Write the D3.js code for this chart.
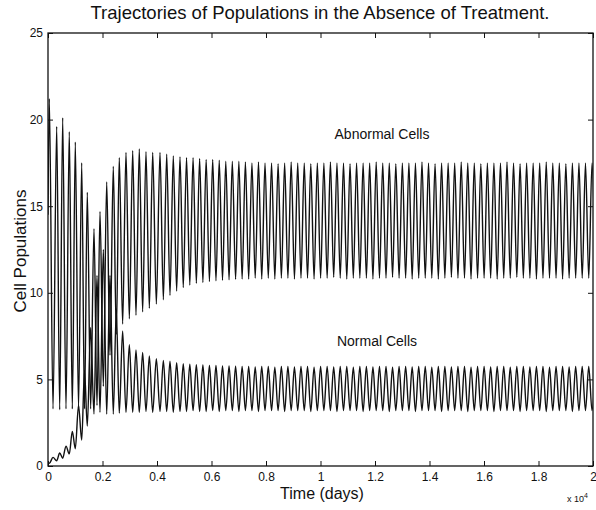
<!DOCTYPE html>
<html>
<head>
<meta charset="utf-8">
<script src="https://cdn.jsdelivr.net/npm/d3@7"></script>
<style>
  html, body { margin: 0; padding: 0; background: #fff; }
  svg { display: block; font-family: "Liberation Sans", Arial, Helvetica, sans-serif; }
</style>
</head>
<body>
<svg id="chart" width="596" height="510"></svg>
<script>
// ---------------- data ----------------
const titleText = "Trajectories of Populations in the Absence of Treatment.";
const xLabel = "Time (days)";
const yLabel = "Cell Populations";
const xTickValues = [0, 2000, 4000, 6000, 8000, 10000, 12000, 14000, 16000, 18000, 20000];
const xTickLabels = ["0", "0.2", "0.4", "0.6", "0.8", "1", "1.2", "1.4", "1.6", "1.8", "2"];
const yTickValues = [0, 5, 10, 15, 20, 25];
const seriesNames = ["Abnormal Cells", "Normal Cells"];
const startValues = [14.5, 0.25];   // values at day 0

// days of the abnormal-cell maxima (normal-cell minima)
const peakDays = [48, 319, 539, 781, 1002, 1237, 1442, 1688, 1908, 2154,
  2396, 2616, 2862, 3108, 3350, 3596, 3842, 4110, 4356, 4598,
  4844, 5084, 5324, 5564, 5804, 6044, 6284, 6524, 6764, 7004,
  7244, 7484, 7724, 7964, 8204, 8444, 8684, 8924, 9164, 9404,
  9644, 9884, 10124, 10364, 10604, 10844, 11084, 11324, 11564, 11804,
  12044, 12284, 12524, 12764, 13004, 13244, 13484, 13724, 13964, 14204,
  14444, 14684, 14924, 15164, 15404, 15644, 15884, 16124, 16364, 16604,
  16844, 17084, 17324, 17564, 17804, 18044, 18284, 18524, 18764, 19004,
  19244, 19484, 19724, 19964];
// days of the abnormal-cell minima (normal-cell maxima)
const troughDays = [184, 429, 660, 892, 1120, 1340, 1565, 1798, 2031, 2275,
  2506, 2739, 2985, 3229, 3473, 3719, 3976, 4233, 4477, 4721,
  4964, 5204, 5444, 5684, 5924, 6164, 6404, 6644, 6884, 7124,
  7364, 7604, 7844, 8084, 8324, 8564, 8804, 9044, 9284, 9524,
  9764, 10004, 10244, 10484, 10724, 10964, 11204, 11444, 11684, 11924,
  12164, 12404, 12644, 12884, 13124, 13364, 13604, 13844, 14084, 14324,
  14564, 14804, 15044, 15284, 15524, 15764, 16004, 16244, 16484, 16724,
  16964, 17204, 17444, 17684, 17924, 18164, 18404, 18644, 18884, 19124,
  19364, 19604, 19844, 20084];

const abnormalPeaks = [21.2, 19.6, 20.1, 19.3, 18.7, 17.5, 15.8, 13.7, 14.7, 16.4,
  17.3, 17.8, 18.1, 18.2, 18.3, 18.15, 18.1, 18.1, 18.0, 17.9,
  17.85, 17.8, 17.8, 17.75, 17.7, 17.7, 17.65, 17.6, 17.6, 17.6,
  17.55, 17.5, 17.55, 17.5, 17.5, 17.45, 17.5, 17.55, 17.5, 17.5,
  17.45, 17.5, 17.5, 17.55, 17.5, 17.5, 17.45, 17.5, 17.5, 17.5,
  17.55, 17.5, 17.5, 17.45, 17.5, 17.5, 17.5, 17.55, 17.5, 17.45,
  17.5, 17.5, 17.5, 17.55, 17.5, 17.5, 17.45, 17.5, 17.5, 17.5,
  17.55, 17.5, 17.45, 17.5, 17.5, 17.5, 17.55, 17.5, 17.5, 17.45,
  17.5, 17.5, 17.5, 17.5];
const abnormalTroughs = [3.3, 3.25, 3.3, 3.3, 3.35, 3.3, 3.3, 3.5, 4.6, 6.4,
  7.6, 8.2, 8.5, 8.7, 8.9, 9.1, 9.35, 9.6, 9.85, 10.1,
  10.3, 10.45, 10.55, 10.6, 10.65, 10.7, 10.72, 10.75, 10.78, 10.8,
  10.8, 10.85, 10.8, 10.85, 10.8, 10.85, 10.85, 10.8, 10.85, 10.85,
  10.8, 10.85, 10.85, 10.9, 10.85, 10.8, 10.85, 10.85, 10.85, 10.8,
  10.85, 10.85, 10.9, 10.85, 10.85, 10.8, 10.85, 10.85, 10.85, 10.8,
  10.85, 10.9, 10.85, 10.85, 10.8, 10.85, 10.85, 10.85, 10.8, 10.85,
  10.85, 10.9, 10.85, 10.85, 10.8, 10.85, 10.85, 10.85, 10.8, 10.85,
  10.85, 10.85, 10.85, 10.85];
const normalPeaks = [0.5, 0.75, 1.15, 2.0, 3.5, 5.5, 8.0, 11.0, 12.5, 11.0,
  9.0, 7.8, 7.0, 6.7, 6.55, 6.35, 6.2, 6.1, 6.05, 5.96,
  5.9, 5.88, 5.85, 5.83, 5.8, 5.8, 5.78, 5.78, 5.76, 5.75,
  5.75, 5.72, 5.75, 5.75, 5.7, 5.75, 5.75, 5.72, 5.75, 5.75,
  5.7, 5.75, 5.75, 5.72, 5.75, 5.75, 5.7, 5.75, 5.75, 5.72,
  5.75, 5.75, 5.7, 5.75, 5.75, 5.72, 5.75, 5.75, 5.7, 5.75,
  5.75, 5.72, 5.75, 5.75, 5.7, 5.75, 5.75, 5.72, 5.75, 5.75,
  5.7, 5.75, 5.75, 5.72, 5.75, 5.75, 5.7, 5.75, 5.75, 5.72,
  5.75, 5.75, 5.75, 5.75];
const normalTroughs = [0.15, 0.3, 0.45, 0.7, 1.0, 1.5, 2.3, 3.0, 3.1, 3.0,
  3.0, 3.05, 3.1, 3.1, 3.1, 3.15, 3.1, 3.15, 3.15, 3.1,
  3.15, 3.15, 3.2, 3.15, 3.15, 3.2, 3.15, 3.2, 3.2, 3.15,
  3.2, 3.2, 3.15, 3.2, 3.2, 3.2, 3.15, 3.2, 3.2, 3.2,
  3.15, 3.2, 3.2, 3.2, 3.15, 3.2, 3.2, 3.2, 3.15, 3.2,
  3.2, 3.2, 3.15, 3.2, 3.2, 3.2, 3.15, 3.2, 3.2, 3.2,
  3.15, 3.2, 3.2, 3.2, 3.15, 3.2, 3.2, 3.2, 3.15, 3.2,
  3.2, 3.2, 3.15, 3.2, 3.2, 3.2, 3.15, 3.2, 3.2, 3.2,
  3.15, 3.2, 3.2, 3.2];

// ---------------- layout ----------------
const svg = d3.select("#chart");
const margin = { left: 48, right: 3, top: 33, bottom: 44 };
const W = 596, H = 510;
const x = d3.scaleLinear().domain([0, 20000]).range([margin.left, W - margin.right]);
const y = d3.scaleLinear().domain([0, 25]).range([H - margin.bottom, margin.top]);

// build the trajectories from the extrema arrays
function buildSeries(start, hiDays, hiVals, loDays, loVals) {
  const pts = [[0, start]];
  for (let i = 0; i < hiDays.length; i++) {
    pts.push([hiDays[i], hiVals[i]]);
    if (i < loDays.length) pts.push([loDays[i], loVals[i]]);
  }
  pts.sort((a, b) => a[0] - b[0]);
  return pts;
}
const abnormal = buildSeries(startValues[0], peakDays, abnormalPeaks, troughDays, abnormalTroughs);
const normal = buildSeries(startValues[1], troughDays, normalPeaks, peakDays, normalTroughs);

svg.append("defs").append("clipPath").attr("id", "plotclip")
  .append("rect")
  .attr("x", x(0)).attr("y", y(25))
  .attr("width", x(20000) - x(0)).attr("height", y(0) - y(25));

const line = d3.line().x(d => x(d[0])).y(d => y(d[1])).curve(d3.curveMonotoneX);

const plot = svg.append("g").attr("clip-path", "url(#plotclip)");
[abnormal, normal].forEach(s => {
  plot.append("path").datum(s)
    .attr("d", line)
    .attr("fill", "none")
    .attr("stroke", "#111")
    .attr("stroke-width", 1.4);
});

// ---------------- axes (ticks inside, box) ----------------
const tickFont = 12;
const gx = svg.append("g").attr("transform", `translate(0,${y(0)})`)
  .call(d3.axisBottom(x).tickValues(xTickValues)
    .tickFormat((d, i) => xTickLabels[i]).tickSizeInner(-5).tickSizeOuter(0).tickPadding(6));
const gxTop = svg.append("g").attr("transform", `translate(0,${y(25)})`)
  .call(d3.axisTop(x).tickValues(xTickValues).tickFormat("").tickSizeInner(-5).tickSizeOuter(0));
const gy = svg.append("g").attr("transform", `translate(${x(0)},0)`)
  .call(d3.axisLeft(y).tickValues(yTickValues).tickFormat(d3.format("d"))
    .tickSizeInner(-5).tickSizeOuter(0).tickPadding(5));
const gyRight = svg.append("g").attr("transform", `translate(${x(20000)},0)`)
  .call(d3.axisRight(y).tickValues(yTickValues).tickFormat("").tickSizeInner(-5).tickSizeOuter(0));

[gx, gxTop, gy, gyRight].forEach(g => {
  g.select(".domain").remove();
  g.selectAll(".tick line").attr("stroke", "#111").attr("stroke-width", 1);
  g.selectAll("text").attr("fill", "#111").style("font-size", tickFont + "px")
    .style("font-family", '"Liberation Sans", Arial, sans-serif');
});

svg.append("rect")
  .attr("x", x(0)).attr("y", y(25))
  .attr("width", x(20000) - x(0)).attr("height", y(0) - y(25))
  .attr("fill", "none").attr("stroke", "#111").attr("stroke-width", 1.3);

// ---------------- texts ----------------
svg.append("text").attr("x", 320).attr("y", 19)
  .attr("text-anchor", "middle").style("font-size", "18.5px").attr("fill", "#111")
  .text(titleText);

svg.append("text").attr("x", 322).attr("y", 499)
  .attr("text-anchor", "middle").style("font-size", "16px").attr("fill", "#111")
  .text(xLabel);

svg.append("text")
  .attr("transform", `translate(26,251) rotate(-90)`)
  .attr("text-anchor", "middle").style("font-size", "17px").attr("fill", "#111")
  .text(yLabel);

const xm = svg.append("text").attr("x", 567).attr("y", 502)
  .style("font-size", "9px").attr("fill", "#111");
xm.append("tspan").text("x 10");
xm.append("tspan").attr("dy", -4).style("font-size", "7px").text("4");

svg.append("text").attr("x", 382).attr("y", 139)
  .attr("text-anchor", "middle").style("font-size", "14px").attr("fill", "#111")
  .text(seriesNames[0]);
svg.append("text").attr("x", 377).attr("y", 346)
  .attr("text-anchor", "middle").style("font-size", "14px").attr("fill", "#111")
  .text(seriesNames[1]);
</script>
</body>
</html>
